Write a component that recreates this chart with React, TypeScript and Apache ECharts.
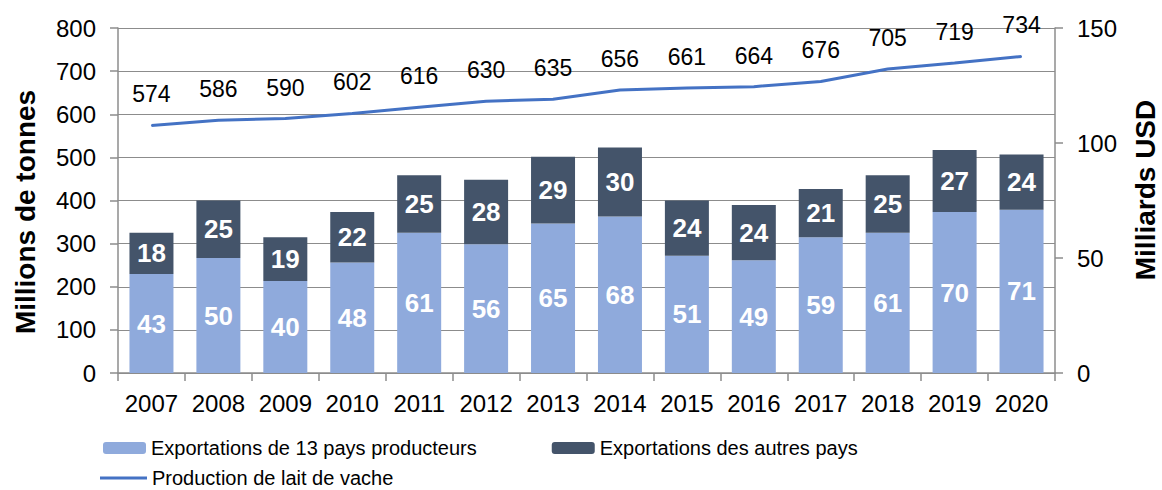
import React, { useEffect, useRef } from "react";
import * as echarts from "echarts";

const years = ["2007","2008","2009","2010","2011","2012","2013","2014","2015","2016","2017","2018","2019","2020"];
const exports13 = [43, 50, 40, 48, 61, 56, 65, 68, 51, 49, 59, 61, 70, 71];
const exportsOther = [18, 25, 19, 22, 25, 28, 29, 30, 24, 24, 21, 25, 27, 24];
const production = [574, 586, 590, 602, 616, 630, 635, 656, 661, 664, 676, 705, 719, 734];
const leftTitle = "Millions de tonnes";
const rightTitle = "Milliards USD";

const FONT = "Liberation Sans, Arial, sans-serif";
const AXIS_GRAY = "#8c8c8c";

export default function App() {
  const ref = useRef<HTMLDivElement>(null);
  useEffect(() => {
    if (!ref.current) return;
    const chart = echarts.init(ref.current, null, { renderer: "svg" });
    chart.setOption({
      animation: false,
      textStyle: { fontFamily: FONT },
      grid: { left: 118, right: 107, top: 28, bottom: 117, outerBoundsMode: "none", containLabel: false },
      graphic: [
        {
          type: "text",
          x: 25,
          y: 212,
          rotation: Math.PI / 2,
          style: {
            text: leftTitle,
            fontSize: 28,
            fontWeight: "bold",
            fontFamily: FONT,
            fill: "#000",
            align: "center",
            verticalAlign: "middle",
          },
        },
        {
          type: "text",
          x: 1145,
          y: 190,
          rotation: Math.PI / 2,
          style: {
            text: rightTitle,
            fontSize: 28,
            fontWeight: "bold",
            fontFamily: FONT,
            fill: "#000",
            align: "center",
            verticalAlign: "middle",
          },
        },
      ],
      legend: [
        {
          left: 98,
          top: 433,
          itemWidth: 43,
          itemHeight: 12,
          itemGap: 75,
          textStyle: { fontSize: 20, color: "#000", fontFamily: FONT },
          data: ["Exportations de 13 pays producteurs", "Exportations des autres pays"],
        },
        {
          left: 95,
          top: 463,
          itemWidth: 47,
          itemHeight: 3,
          textStyle: { fontSize: 20, color: "#000", fontFamily: FONT },
          data: [{ name: "Production de lait de vache", icon: "rect" }],
        },
      ],
      xAxis: {
        type: "category",
        data: years,
        boundaryGap: true,
        axisLine: { show: true, lineStyle: { color: AXIS_GRAY, width: 1.5 } },
        axisTick: { show: true, alignWithLabel: false, length: 8, lineStyle: { color: AXIS_GRAY, width: 1.5 } },
        axisLabel: { fontSize: 24, color: "#000", margin: 18, fontFamily: FONT, interval: 0 },
      },
      yAxis: [
        {
          type: "value",
          min: 0,
          max: 800,
          interval: 100,
          axisLine: { show: true, lineStyle: { color: AXIS_GRAY, width: 1.5 } },
          axisTick: { show: true, length: 8, lineStyle: { color: AXIS_GRAY, width: 1.5 } },
          axisLabel: { fontSize: 24, color: "#000", margin: 22, fontFamily: FONT },
          splitLine: { show: true, lineStyle: { color: AXIS_GRAY, width: 1.2 } },
        },
        {
          type: "value",
          min: 0,
          max: 150,
          interval: 50,
          position: "right",
          axisLine: { show: true, lineStyle: { color: AXIS_GRAY, width: 1.5 } },
          axisTick: { show: true, length: 8, lineStyle: { color: AXIS_GRAY, width: 1.5 } },
          axisLabel: { fontSize: 24, color: "#000", margin: 22, fontFamily: FONT },
          splitLine: { show: false },
        },
      ],
      series: [
        {
          name: "Exportations de 13 pays producteurs",
          type: "bar",
          stack: "exp",
          yAxisIndex: 1,
          barWidth: 44,
          data: exports13,
          itemStyle: { color: "#8FAADC" },
          label: {
            show: true,
            position: "inside",
            color: "#fff",
            fontSize: 26,
            fontWeight: "bold",
            fontFamily: FONT,
          },
        },
        {
          name: "Exportations des autres pays",
          type: "bar",
          stack: "exp",
          yAxisIndex: 1,
          barWidth: 44,
          data: exportsOther,
          itemStyle: { color: "#44546A" },
          label: {
            show: true,
            position: "inside",
            color: "#fff",
            fontSize: 26,
            fontWeight: "bold",
            fontFamily: FONT,
          },
        },
        {
          name: "Production de lait de vache",
          type: "line",
          yAxisIndex: 0,
          data: production,
          symbol: "circle",
          symbolSize: 1,
          showSymbol: true,
          lineStyle: { color: "#4472C4", width: 3 },
          itemStyle: { color: "#4472C4" },
          label: {
            show: true,
            position: "top",
            distance: 19,
            color: "#000",
            fontSize: 23,
            fontFamily: FONT,
          },
        },
      ],
    });
    return () => chart.dispose();
  }, []);
  return <div ref={ref} style={{ width: 1162, height: 490, position: "absolute", left: 0, top: 0 }} />;
}
